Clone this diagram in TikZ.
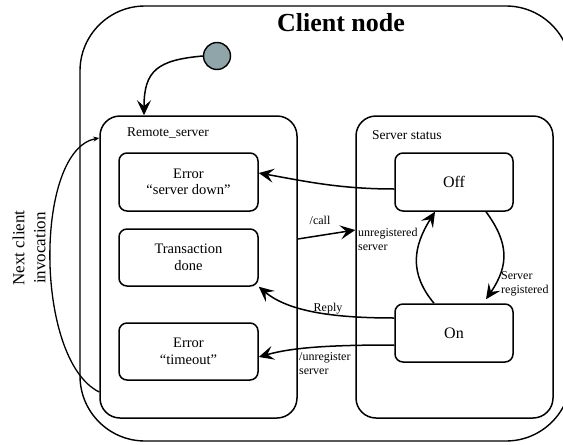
\documentclass[tikz,border=0pt]{standalone}
\usepackage{fontspec}
\setmainfont{Liberation Serif}
\usetikzlibrary{arrows.meta}
\definecolor{initfill}{RGB}{143,165,170}
\begin{document}
\begin{tikzpicture}[x=1pt,y=-1pt,
  box/.style={draw, line width=1.5pt, rounded corners=8pt, inner sep=0pt, align=center, font=\fontsize{14.5}{16.5}\selectfont},
  cont/.style={draw, line width=1.5pt, rounded corners=20pt, inner sep=0pt, minimum width=197pt, minimum height=302pt},
  conn/.style={line width=1.5pt, -{Stealth[length=15pt,width=14pt,inset=6pt]}},
  lbl/.style={font=\fontsize{12}{14}\selectfont, inner sep=0pt, align=left},
  clbl/.style={font=\fontsize{13.5}{16}\selectfont, inner sep=0pt, anchor=west}
]
\useasboundingbox (0,0) rectangle (563,445);
\clip (0,0) rectangle (563,445);
% outer container
\node (outer) [draw, line width=1.4pt, rounded corners=65pt, minimum width=491pt, minimum height=435pt, inner sep=0pt] at (325.5,223.5) {};
\node (title) [font=\fontsize{26}{30}\selectfont\bfseries, inner sep=0pt] at (341,23) {Client node};
% initial state
\node (init) [circle, draw, line width=1.4pt, fill=initfill, minimum size=27pt, inner sep=0pt] at (217,56) {};
% containers
\node (rs) [cont] at (198.5,267) {};
\node (rslbl) [clbl] at (127,133) {Remote\_server};
\node (ss) [cont] at (454.5,267) {};
\node (sslbl) [clbl] at (372,135) {Server status};
% states
\node (err1) [box, minimum width=139pt, minimum height=58pt] at (188.5,182) {Error\\``server down''};
\node (trans) [box, minimum width=139pt, minimum height=57pt] at (188.5,257.5) {Transaction\\done};
\node (tout) [box, minimum width=139pt, minimum height=57pt] at (188.5,351.5) {Error\\``timeout''};
\node (off) [box, minimum width=118pt, minimum height=58pt, font=\fontsize{16}{18}\selectfont] at (454,182) {Off};
\node (on) [box, minimum width=118pt, minimum height=58pt, font=\fontsize{16}{18}\selectfont] at (454,333) {On};
% connectors
\draw[conn] (init.west) .. controls +(-45,4) and +(0,-45) .. ([xshift=-54.5pt]rs.north);
\draw[conn] ([yshift=-7pt]off.west) .. controls +(-55,0) and +(45,8) .. ([yshift=9pt]err1.east);
\draw[conn] ([yshift=28pt]rs.east) -- ([yshift=37pt]ss.west);
\node (calllbl) [lbl] at (320,220) {/call};
\node (unreglbl) [lbl, anchor=west] at (358,239) {unregistered\\server};
\draw[conn] ([xshift=-20pt]on.north) .. controls +(-25,-30) and +(-22,35) .. ([xshift=-19pt]off.south);
\draw[conn] ([xshift=32pt]off.south) .. controls +(22,30) and +(24,-35) .. ([xshift=32pt,yshift=4pt]on.north);
\node (reglbl) [lbl, anchor=west] at (501,284) {Server\\registered};
\draw[conn] ([yshift=15pt]on.west) .. controls +(-60,0) and +(30,25) .. (trans.south east);
\node (replylbl) [lbl] at (328,309) {Reply};
\draw[conn] ([yshift=-12pt]on.west) .. controls +(-60,0) and +(35,-10) .. ([yshift=-5.5pt]tout.east);
\node (unreglbl2) [lbl, anchor=west] at (299,364) {/unregister\\server};
\draw[line width=1.3pt, -{Stealth[length=6pt,width=5pt]}] ([yshift=-125pt]rs.west) .. controls (34,360) and (34,150) .. ([yshift=129pt]rs.west);
\node (ncilbl) [rotate=90, align=center, font=\fontsize{17}{21}\selectfont, inner sep=0pt] at (29,248) {Next client\\invocation};
\end{tikzpicture}
\end{document}
